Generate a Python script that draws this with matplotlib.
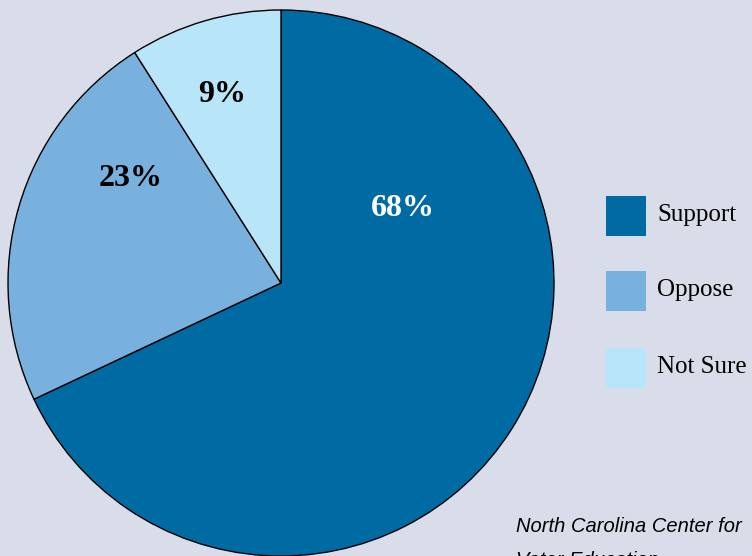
import matplotlib
matplotlib.use("Agg")
import matplotlib.pyplot as plt
from matplotlib.patches import Rectangle

categories = ["Support", "Oppose", "Not Sure"]
values = [68, 23, 9]
labels = ["68%", "23%", "9%"]
colors = ["#006ba3", "#78b1de", "#b9e5f9"]
label_colors = ["white", "black", "black"]
bg = "#d8dde9"

fig = plt.figure(figsize=(7.52, 5.56), dpi=100)
fig.patch.set_facecolor(bg)
ax = fig.add_axes([0, 0, 1, 1])
ax.set_facecolor(bg)

cx, cy, r = 281, 273, 273
wedges, _ = ax.pie(values, colors=colors, startangle=90, counterclock=False,
                   center=(cx, cy), radius=r, frame=True,
                   wedgeprops=dict(edgecolor="black", linewidth=1.0))
ax.set_xlim(0, 752)
ax.set_ylim(0, 556)
ax.set_aspect("equal")
ax.axis("off")

label_pos = [(403, 556 - 208), (131, 556 - 178), (222, 556 - 95)]
for (x, y), t, c in zip(label_pos, labels, label_colors):
    ax.text(x, y, t, ha="center", va="center", fontsize=23, fontweight="bold",
            family="Liberation Serif", color=c)

leg_y = [556 - 216, 556 - 291, 556 - 368]
for yy, col, name in zip(leg_y, colors, categories):
    ax.add_patch(Rectangle((606, yy - 20), 40, 40, facecolor=col, edgecolor="none"))
    ax.text(657, yy + 1, name, ha="left", va="center", fontsize=18,
            family="Liberation Serif", color="black")

ax.text(516, 556 - 527, "North Carolina Center for", ha="left", va="center",
        fontsize=14.5, style="italic", family="Liberation Sans", color="black")
ax.text(516, 556 - 560, "Voter Education", ha="left", va="center",
        fontsize=14.5, style="italic", family="Liberation Sans", color="black")

fig.savefig("out.png", dpi=100, facecolor=bg)
